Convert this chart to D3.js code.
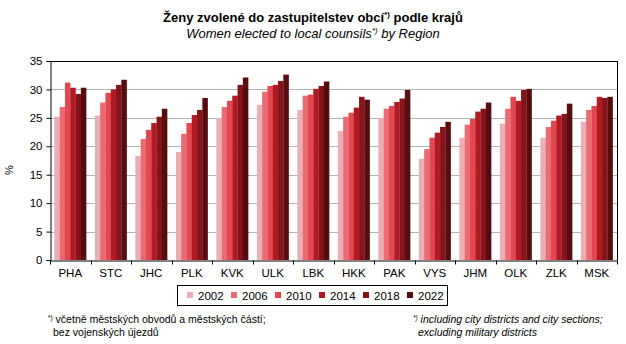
<!DOCTYPE html>
<html>
<head>
<meta charset="utf-8">
<script src="https://cdn.jsdelivr.net/npm/d3@7"></script>
<style>
  html, body { margin: 0; padding: 0; background: #fff; }
  svg { display: block; font-family: "Liberation Sans", Arial, sans-serif; }
</style>
</head>
<body>
<svg id="chart" width="626" height="344"></svg>
<script>
// Regions (kraje)
const regions = ["PHA","STC","JHC","PLK","KVK","ULK","LBK","HKK","PAK","VYS","JHM","OLK","ZLK","MSK"];
// Election years
const years = ["2002","2006","2010","2014","2018","2022"];
// Share of women among elected councillors, % (one array per election year, in region order)
const v2002 = [25.2, 25.4, 18.3, 19.0, 25.0, 27.3, 26.4, 22.7, 25.0, 17.8, 21.5, 24.0, 21.5, 24.3];
const v2006 = [26.9, 27.7, 21.3, 22.2, 26.9, 29.6, 28.9, 25.2, 26.6, 19.5, 23.8, 26.6, 23.4, 26.4];
const v2010 = [31.2, 29.4, 22.9, 24.1, 28.0, 30.6, 29.1, 25.9, 27.1, 21.5, 24.8, 28.7, 24.5, 27.1];
const v2014 = [30.3, 30.0, 24.1, 25.5, 28.9, 30.8, 30.1, 26.8, 27.8, 22.4, 26.1, 28.0, 25.4, 28.7];
const v2018 = [29.2, 30.8, 25.2, 26.4, 30.8, 31.5, 30.6, 28.7, 28.4, 23.4, 26.6, 29.9, 25.7, 28.5];
const v2022 = [30.3, 31.7, 26.6, 28.5, 32.1, 32.6, 31.4, 28.2, 29.9, 24.3, 27.7, 30.1, 27.5, 28.7];
const yTicks = [0, 5, 10, 15, 20, 25, 30, 35];

const seriesValues = [v2002, v2006, v2010, v2014, v2018, v2022];
const colors = ["#e8b0b4", "#ec6b72", "#e3474f", "#b11a23", "#86131a", "#570c10"];

const svg = d3.select("#chart");
const plotLeft = 50, plotRight = 617, plotTop = 61, plotBottom = 260;

const x0 = d3.scaleBand().domain(regions).range([plotLeft, plotRight]).paddingInner(0).paddingOuter(0);
const x1 = d3.scaleBand().domain(years).range([0, x0.bandwidth()]).paddingInner(0).paddingOuter(0.82);
const y = d3.scaleLinear().domain([0, 35]).range([plotBottom, plotTop]);

// Titles
const t1 = svg.append("text").attr("x", 313).attr("y", 22).attr("text-anchor", "middle")
  .attr("font-size", 13).attr("font-weight", "bold").attr("fill", "#000");
t1.append("tspan").text("Ženy zvolené do zastupitelstev obcí");
t1.append("tspan").attr("font-size", 8).attr("dy", -5).text("*)");
t1.append("tspan").attr("dy", 5).text(" podle krajů");
const t2 = svg.append("text").attr("x", 313).attr("y", 38).attr("text-anchor", "middle")
  .attr("font-size", 13).attr("font-style", "italic").attr("fill", "#000");
t2.append("tspan").text("Women elected to local counsils");
t2.append("tspan").attr("font-size", 8).attr("dy", -5).text("*)");
t2.append("tspan").attr("dy", 5).text(" by Region");

// Gridlines
svg.append("g").selectAll("line").data(yTicks.filter(t => t > 0 && t < 35)).join("line")
  .attr("x1", plotLeft).attr("x2", plotRight)
  .attr("y1", d => Math.round(y(d)) + 0.5).attr("y2", d => Math.round(y(d)) + 0.5)
  .attr("stroke", "#b4b4b4").attr("stroke-width", 1);

// Bars
const groups = svg.append("g").selectAll("g").data(regions).join("g")
  .attr("transform", d => `translate(${x0(d)},0)`);
groups.selectAll("rect")
  .data((r, i) => years.map((yr, k) => ({ yr, v: seriesValues[k][i], c: colors[k] })))
  .join("rect")
  .attr("x", d => x1(d.yr)).attr("width", x1.bandwidth() + 0.2)
  .attr("y", d => y(d.v)).attr("height", d => y(0) - y(d.v))
  .attr("fill", d => d.c);

// Frame (top and right)
svg.append("line").attr("x1", plotLeft).attr("x2", plotRight).attr("y1", plotTop + 0.5).attr("y2", plotTop + 0.5).attr("stroke", "#000");
svg.append("line").attr("x1", plotRight + 0.5).attr("x2", plotRight + 0.5).attr("y1", plotTop).attr("y2", plotBottom).attr("stroke", "#000");

// Axes
const yAxis = d3.axisLeft(y).tickValues(yTicks).tickSize(4).tickPadding(4);
const gy = svg.append("g").attr("transform", `translate(${plotLeft + 0.5},0)`).call(yAxis);
gy.select(".domain").attr("stroke", "#000");
gy.selectAll("text").attr("font-size", 11.5).attr("fill", "#000").attr("font-family", "Liberation Sans, Arial, sans-serif");

const xAxis = d3.axisBottom(x0).tickSize(0).tickPadding(8);
const gx = svg.append("g").attr("transform", `translate(0,${plotBottom + 0.5})`).call(xAxis);
gx.select(".domain").attr("stroke", "#000");
gx.selectAll("text").attr("font-size", 11.5).attr("fill", "#000").attr("font-family", "Liberation Sans, Arial, sans-serif");
// Category separator ticks
gx.append("g").selectAll("line").data(regions.concat(["__end"])).join("line")
  .attr("x1", (d, i) => Math.round(plotLeft + i * x0.step()) + 0.5)
  .attr("x2", (d, i) => Math.round(plotLeft + i * x0.step()) + 0.5)
  .attr("y1", 0).attr("y2", 4).attr("stroke", "#000");

// Y axis unit label
svg.append("text").attr("transform", "translate(13,170) rotate(-90)")
  .attr("text-anchor", "middle").attr("font-size", 11).attr("fill", "#000").text("%");

// Legend
const lg = svg.append("g");
lg.append("rect").attr("x", 177.5).attr("y", 285.5).attr("width", 270).attr("height", 20)
  .attr("fill", "#fff").attr("stroke", "#000");
const li = lg.selectAll("g").data(years).join("g")
  .attr("transform", (d, i) => `translate(${187 + i * 44},0)`);
li.append("rect").attr("x", 0).attr("y", 292).attr("width", 6).attr("height", 6)
  .attr("fill", (d, i) => colors[i]);
li.append("text").attr("x", 11).attr("y", 299.5).attr("font-size", 11.5).attr("fill", "#000").text(d => d);

// Footnotes
const fn = svg.append("g").attr("font-size", 10.5).attr("fill", "#000");
const f1 = fn.append("text").attr("x", 48).attr("y", 323);
f1.append("tspan").attr("font-size", 6.5).attr("dy", -3).text("*)");
f1.append("tspan").attr("dy", 3).text(" včetně městských obvodů a městských částí;");
fn.append("text").attr("x", 53).attr("y", 336).text("bez vojenských újezdů");
const f2 = fn.append("text").attr("x", 413).attr("y", 323).attr("font-style", "italic");
f2.append("tspan").attr("font-size", 6.5).attr("dy", -3).text("*)");
f2.append("tspan").attr("dy", 3).text(" including city districts and city sections;");
fn.append("text").attr("x", 418).attr("y", 336).attr("font-style", "italic").text("excluding military districts");
</script>
</body>
</html>
